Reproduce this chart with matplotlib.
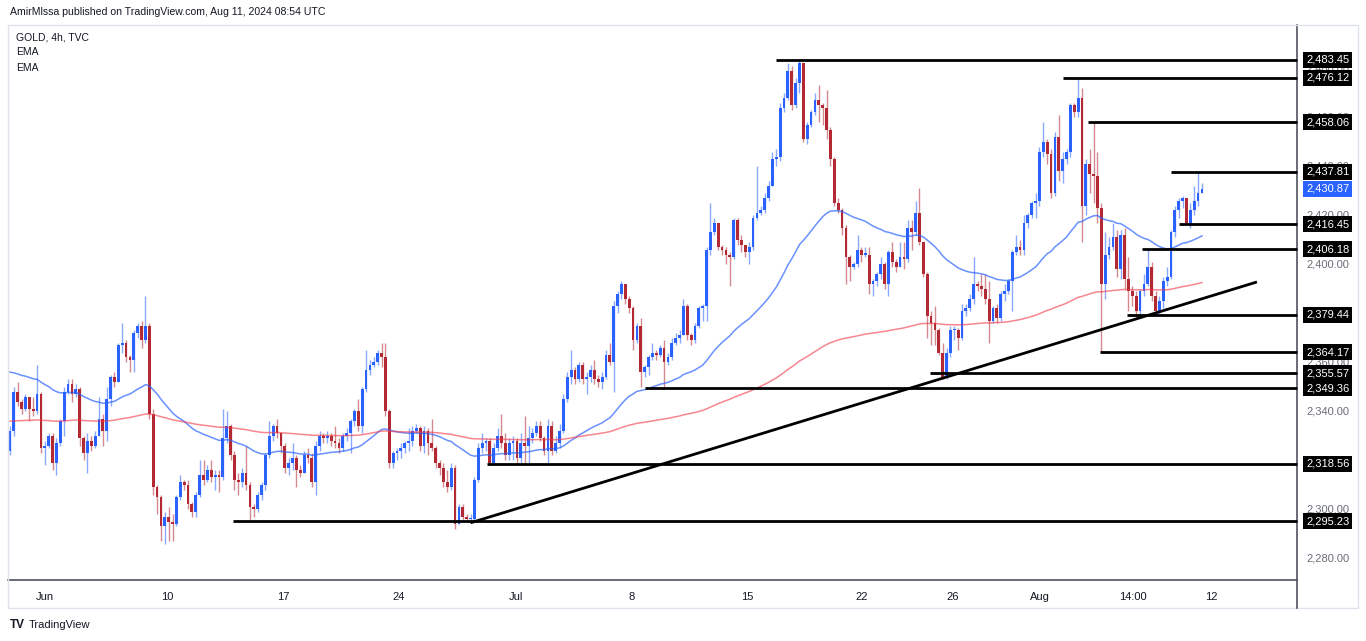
import matplotlib
matplotlib.use('Agg')
import matplotlib.pyplot as plt
from matplotlib.transforms import blended_transform_factory
from matplotlib.patches import Rectangle
from matplotlib.lines import Line2D

# ---------------------------------------------------------------- #
# data (GOLD 4h, TVC)
# ---------------------------------------------------------------- #
first_open = 2324

close = [
    2332, 2348, 2344, 2341, 2346, 2341, 2340, 2347, 2325, 2326,
    2330, 2319, 2327, 2336, 2348, 2351, 2347, 2349, 2329, 2323,
    2328, 2326, 2330, 2337, 2332, 2345, 2354, 2352, 2367, 2368,
    2362, 2361, 2372, 2375, 2369, 2375, 2339, 2309, 2305, 2293,
    2297, 2295, 2294, 2305, 2311, 2310, 2302, 2299, 2306, 2314,
    2312, 2316, 2313, 2314, 2313, 2329, 2334, 2322, 2312, 2311,
    2315, 2310, 2301, 2300, 2306, 2310, 2322, 2330, 2334, 2331,
    2326, 2317, 2319, 2321, 2316, 2315, 2322, 2321, 2311, 2326,
    2330, 2329, 2330, 2328, 2327, 2325, 2330, 2331, 2336, 2340,
    2334, 2349, 2357, 2359, 2360, 2364, 2362, 2340, 2319, 2323,
    2324, 2325, 2327, 2328, 2332, 2333, 2326, 2332, 2327, 2325,
    2319, 2317, 2311, 2309, 2317, 2294, 2301, 2297, 2296, 2296,
    2312, 2325, 2327, 2328, 2319, 2325, 2330, 2327, 2322, 2327,
    2328, 2321, 2327, 2326, 2329, 2331, 2334, 2329, 2324, 2334,
    2324, 2327, 2332, 2345, 2354, 2357, 2353, 2359, 2353, 2354,
    2357, 2353, 2352, 2354, 2363, 2360, 2383, 2388, 2392, 2386,
    2382, 2369, 2375, 2356, 2358, 2362, 2364, 2363, 2366, 2360,
    2362, 2368, 2370, 2371, 2383, 2371, 2369, 2375, 2382, 2383,
    2406, 2413, 2417, 2407, 2406, 2404, 2403, 2418, 2410, 2408,
    2405, 2407, 2419, 2421, 2422, 2427, 2432, 2443, 2444, 2464,
    2468, 2479, 2465, 2474, 2482, 2451, 2457, 2462, 2467, 2465,
    2464, 2455, 2443, 2425, 2422, 2415, 2403, 2399, 2400, 2406,
    2404, 2404, 2392, 2393, 2396, 2400, 2392, 2405, 2401, 2399,
    2403, 2402, 2415, 2413, 2421, 2409, 2396, 2379, 2376, 2373,
    2364, 2354, 2364, 2373, 2373, 2370, 2381, 2382, 2386, 2392,
    2391, 2390, 2386, 2377, 2382, 2378, 2388, 2389, 2393, 2405,
    2407, 2406, 2417, 2420, 2425, 2426, 2446, 2450, 2445, 2429,
    2452, 2438, 2443, 2446, 2465, 2462, 2468, 2424, 2441, 2437,
    2436, 2423, 2392, 2404, 2407, 2411, 2398, 2412, 2394, 2389,
    2387, 2381, 2389, 2392, 2399, 2387, 2381, 2385, 2393, 2395,
    2413, 2422, 2426, 2427, 2416.5, 2422, 2426, 2429, 2430.87,
]

high = [
    2334, 2350, 2352, 2345, 2347, 2346, 2346, 2359, 2348, 2328,
    2331, 2331, 2329, 2337, 2350, 2353, 2353, 2351, 2350, 2330,
    2331, 2330, 2332, 2346, 2339, 2350, 2355, 2356, 2368, 2376,
    2369, 2363, 2373, 2376, 2377, 2387, 2376, 2341, 2310, 2306,
    2299, 2301, 2298, 2306, 2314, 2312, 2312, 2303, 2307, 2320,
    2320, 2318, 2320, 2316, 2316, 2341, 2340, 2335, 2324, 2315,
    2317, 2326, 2311, 2302, 2307, 2311, 2323, 2336, 2335, 2337,
    2331, 2327, 2321, 2327, 2322, 2318, 2324, 2325, 2323, 2328,
    2332, 2331, 2332, 2331, 2334, 2329, 2331, 2333, 2337, 2341,
    2345, 2350, 2365, 2361, 2362, 2365, 2368, 2368, 2341, 2324,
    2325, 2327, 2328, 2333, 2334, 2335, 2334, 2334, 2333, 2337,
    2326, 2320, 2319, 2316, 2319, 2318, 2302, 2302, 2298, 2298,
    2313, 2327, 2331, 2329, 2329, 2327, 2333, 2339, 2331, 2329,
    2330, 2329, 2331, 2338, 2334, 2333, 2336, 2336, 2330, 2337,
    2336, 2330, 2335, 2347, 2356, 2365, 2358, 2360, 2360, 2356,
    2359, 2361, 2355, 2356, 2365, 2368, 2385, 2389, 2393, 2392,
    2387, 2383, 2376, 2378, 2359, 2363, 2368, 2365, 2367, 2369,
    2364, 2370, 2372, 2373, 2386, 2384, 2372, 2376, 2383, 2384,
    2407, 2425, 2419, 2417, 2408, 2407, 2405, 2419, 2419, 2412,
    2408, 2409, 2420, 2440, 2424, 2429, 2434, 2446, 2447, 2466,
    2470, 2482, 2481, 2476, 2483.45, 2482, 2458, 2463, 2470, 2473,
    2466, 2471, 2456, 2444, 2427, 2423, 2416, 2404, 2401, 2412,
    2407, 2407, 2407, 2394, 2397, 2403, 2401, 2406, 2409, 2402,
    2409, 2409, 2418, 2418, 2426, 2431, 2409, 2397, 2381, 2383,
    2374, 2368, 2366, 2375, 2375, 2374, 2384, 2384, 2388, 2403,
    2393, 2396, 2396, 2393, 2383, 2384, 2389, 2392, 2394, 2406,
    2412, 2410, 2420, 2421, 2426, 2429, 2448, 2458, 2451, 2447,
    2454, 2461, 2446, 2447, 2466, 2466, 2476.12, 2472, 2443, 2447,
    2458.06, 2446, 2425, 2413, 2411, 2417, 2414, 2414, 2415, 2403,
    2391, 2389, 2390, 2396, 2406, 2401, 2389, 2387, 2395, 2399,
    2414, 2424, 2427, 2428, 2427, 2425, 2432, 2437.81, 2433,
]

low = [
    2322, 2330, 2342, 2339, 2340, 2336, 2338, 2339, 2323, 2318,
    2325, 2316, 2314, 2326, 2330, 2347, 2344, 2346, 2326, 2320,
    2315, 2324, 2325, 2330, 2326, 2328, 2342, 2350, 2352, 2364,
    2360, 2356, 2356, 2370, 2366, 2368, 2337, 2306, 2298, 2287,
    2286, 2287, 2287, 2293, 2304, 2308, 2300, 2297, 2297, 2305,
    2310, 2311, 2311, 2308, 2307, 2312, 2327, 2320, 2308, 2306,
    2309, 2308, 2295.5, 2297, 2299, 2304, 2308, 2321, 2328, 2329,
    2323, 2315, 2314, 2316, 2309, 2313, 2315, 2319, 2309, 2306,
    2324, 2327, 2327, 2326, 2325, 2323, 2324, 2328, 2323, 2334,
    2332, 2331, 2348, 2355, 2358, 2359, 2358, 2338, 2317, 2317,
    2320, 2321, 2323, 2324, 2326, 2331, 2324, 2323, 2322, 2324,
    2317, 2314, 2309, 2307, 2308, 2292, 2294, 2295, 2295, 2294.5,
    2295, 2311, 2323, 2324, 2318.6, 2318, 2324, 2325, 2320, 2320,
    2320, 2318, 2319, 2318, 2319, 2327, 2330, 2328, 2322, 2319,
    2322, 2323, 2325, 2331, 2344, 2351, 2351, 2352, 2351, 2347,
    2352, 2351, 2350, 2349, 2353, 2359, 2348, 2380, 2386, 2384,
    2380, 2365, 2368, 2350, 2354, 2355, 2361, 2361, 2362, 2349,
    2359, 2361, 2367, 2368, 2371, 2369, 2367, 2368, 2374, 2377,
    2377, 2404, 2412, 2406, 2404, 2400, 2391, 2402, 2408, 2405,
    2403, 2400, 2406, 2418, 2420, 2421, 2426, 2432, 2440, 2442,
    2462, 2467, 2463, 2464, 2470, 2450, 2449, 2456, 2461, 2458,
    2457, 2451, 2440, 2424, 2421, 2412, 2392, 2393, 2398, 2399,
    2401, 2403, 2388, 2387, 2391, 2394, 2390, 2387, 2399, 2397,
    2399, 2398, 2401, 2406, 2412, 2408, 2395, 2370, 2367, 2367,
    2363, 2353, 2353, 2362, 2369, 2365, 2369, 2379, 2381, 2384,
    2389, 2387, 2384, 2368, 2376, 2376, 2377, 2385, 2388, 2381,
    2404, 2404, 2404, 2415, 2419, 2419, 2424, 2444, 2441, 2427,
    2428, 2434, 2433, 2441, 2444, 2460, 2460, 2409, 2420, 2429,
    2425, 2417, 2364.17, 2386, 2402, 2406, 2395, 2394, 2390, 2381,
    2383, 2378, 2379.4, 2387, 2391, 2385, 2379.5, 2379, 2382, 2391,
    2394, 2411, 2419, 2423, 2416.45, 2415, 2420, 2424, 2429,
]

# moving averages: lengths and their value at the left edge of the chart
ema_fast_len = 50
ema_slow_len = 200
ema_fast_start = 2357
ema_slow_start = 2336

# x axis labels (bar index, text)
tick_pos = [9, 40.6, 70.5, 100.5, 130.8, 160.5, 190.4, 220.2, 243.7, 266.1, 290.2, 310.3]
tick_labels = ['Jun', '10', '17', '24', 'Jul', '8', '15', '22', '26', 'Aug', '14:00', '12']

# price scale labels
scale_prices = [2280, 2300, 2320, 2340, 2360, 2380, 2400, 2420, 2440, 2460, 2480]

# drawn support / resistance levels: price and bar where the line starts
level_prices = [2483.45, 2476.12, 2458.06, 2437.81, 2416.45, 2406.18,
                2379.44, 2364.17, 2355.57, 2349.36, 2318.56, 2295.23]
level_start = [198, 272, 278.5, 300, 302, 292.5, 288.6, 281.6, 237.7, 164, 123.3, 57.6]

# rising trend line (two anchor points: bar, price)
trend_bars = [119, 322.2]
trend_prices = [2294.5, 2392.8]

last_price = 2430.87


def ema(values, length, start):
    k = 2.0 / (length + 1)
    out = []
    prev = start
    for v in values:
        prev = prev + k * (v - prev)
        out.append(prev)
    return out


UP = '#2962ff'
DOWN = '#b22833'

W, H = 1366, 641
bar_px = 3.87

plt.rcParams['font.family'] = ['Liberation Sans', 'DejaVu Sans']

fig = plt.figure(figsize=(W / 100, H / 100), dpi=100)
fig.patch.set_facecolor('white')
ax = fig.add_axes([8 / W, 1 - 580 / H, (1297 - 8) / W, (580 - 25) / H])
xmin = (8 - 10) / bar_px
xmax = (1297 - 10) / bar_px
ax.set_xlim(xmin, xmax)
ax.set_ylim(2271.15, 2497.68)

n = len(close)
idx = list(range(n))
opens = [first_open] + close[:-1]
colors = [UP if c >= o else DOWN for o, c in zip(opens, close)]

# wicks, then bodies
ax.vlines(idx, low, high, colors=colors, lw=1.0, alpha=0.55, zorder=2)
bottoms = [min(o, c) for o, c in zip(opens, close)]
heights = [max(abs(c - o), 0.45) for o, c in zip(opens, close)]
ax.bar(idx, heights, bottom=bottoms, width=0.72, color=colors, lw=0, zorder=3)

# EMAs
ax.plot(idx, ema(close, ema_fast_len, ema_fast_start), color=UP, lw=1.1, alpha=0.7, zorder=4)
ax.plot(idx, ema(close, ema_slow_len, ema_slow_start), color='#f23645', lw=1.1, alpha=0.6, zorder=4)

# levels and trend line
ax.hlines(level_prices, level_start, xmax, colors='black', lw=2, zorder=5, clip_on=False)
ax.plot(trend_bars, trend_prices, color='black', lw=2, zorder=5, solid_capstyle='butt')

# axes cosmetics
for s in ['top', 'left']:
    ax.spines[s].set_visible(False)
ax.spines['bottom'].set_color('#50535e')
ax.spines['right'].set_color('#50535e')
ax.spines['bottom'].set_linewidth(1.2)
ax.spines['right'].set_linewidth(1.2)
ax.set_yticks([])
ax.set_xticks(tick_pos)
ax.set_xticklabels(tick_labels)
ax.tick_params(axis='x', length=0, pad=9, labelsize=8, labelcolor='#131722')

# price scale (grey labels sit under the level boxes, as on the original)
tr = blended_transform_factory(fig.transFigure, ax.transData)
for p in scale_prices:
    ax.text(1306 / W, p, '{:,.2f}'.format(p), transform=tr, fontsize=8, color='#6a6d78',
            va='center', ha='left', clip_on=False, zorder=6)
for p in level_prices:
    ax.text(1306 / W, p, '{:,.2f}'.format(p), transform=tr, fontsize=8, color='white',
            va='center', ha='left', clip_on=False, zorder=7,
            bbox=dict(boxstyle='square,pad=0.28', fc='black', ec='none'))
ax.text(1306 / W, last_price, '{:,.2f}'.format(last_price), transform=tr, fontsize=8,
        color='white', va='center', ha='left', clip_on=False, zorder=7,
        bbox=dict(boxstyle='square,pad=0.28', fc=UP, ec='none'))

# frame around chart + date strip
fig.patches.append(Rectangle((8 / W, 1 - 608 / H), (1358 - 8) / W, (608 - 25) / H,
                             transform=fig.transFigure, fill=False, ec='#e0e3eb', lw=1))
fig.lines.append(Line2D([1297 / W, 1297 / W], [1 - 608 / H, 1 - 580 / H],
                        transform=fig.transFigure, color='#50535e', lw=1.2))

# header, legend, footer
fig.text(10 / W, 1 - 12 / H, 'AmirMlssa published on TradingView.com, Aug 11, 2024 08:54 UTC',
         fontsize=7.6, color='#131722', va='center')
fig.text(16 / W, 1 - 37 / H, 'GOLD, 4h, TVC', fontsize=7.5, color='#131722', va='center')
fig.text(16 / W, 1 - 52 / H, 'EMA', fontsize=7.5, color='#131722', va='center')
fig.text(16 / W, 1 - 68 / H, 'EMA', fontsize=7.5, color='#131722', va='center')
fig.text(10 / W, 1 - 625 / H, 'TV', fontsize=8.5, fontweight='heavy', color='#131722', va='center')
fig.text(29 / W, 1 - 625 / H, 'TradingView', fontsize=8, color='#131722', va='center')

fig.savefig('out.png', dpi=100)
